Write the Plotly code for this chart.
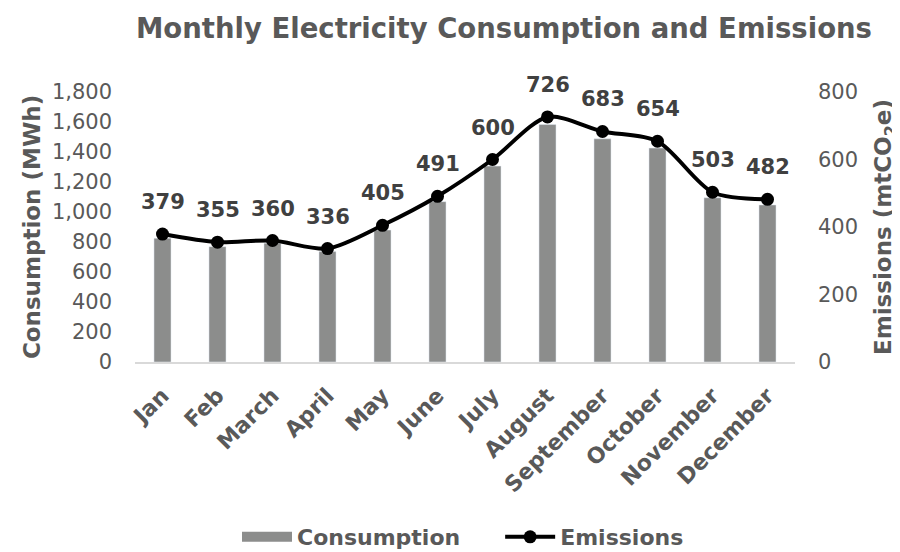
import plotly.graph_objects as go

months = ["Jan", "Feb", "March", "April", "May", "June", "July", "August",
          "September", "October", "November", "December"]
consumption = [825, 769, 792, 736, 880, 1069, 1306, 1583, 1488, 1426, 1095, 1047]
emissions = [379, 355, 360, 336, 405, 491, 600, 726, 683, 654, 503, 482]
left_ticks = [0, 200, 400, 600, 800, 1000, 1200, 1400, 1600, 1800]
right_ticks = [0, 200, 400, 600, 800]

FONT = "DejaVu Sans"
GREY = "#595959"
BAR = "#8c8d8c"
W, H = 892, 544  # page body has an 8px default margin

fig = go.Figure()
fig.add_trace(go.Bar(
    x=months, y=consumption, name="Consumption", showlegend=False,
    marker=dict(color=BAR), yaxis="y",
))
# legend entry for the bars (wide grey swatch, as in the reference)
fig.add_trace(go.Scatter(
    x=[None], y=[None], name="<b>Consumption</b>" + "\u00a0" * 5, mode="lines",
    line=dict(color=BAR, width=16), yaxis="y",
))
fig.add_trace(go.Scatter(
    x=months, y=emissions, name="<b>Emissions</b>", yaxis="y2",
    mode="lines+markers",
    line=dict(color="black", width=4, shape="spline", smoothing=0.8),
    marker=dict(color="black", size=13),
))

for m, e in zip(months, emissions):
    fig.add_annotation(x=m, y=e, xref="x", yref="y2", text=f"<b>{e}</b>",
                       showarrow=False, yshift=32,
                       font=dict(family=FONT, size=21, color="#404040"))

fig.update_layout(
    width=W, height=H,
    margin=dict(l=127, r=105, t=84, b=190, autoexpand=False),
    paper_bgcolor="white", plot_bgcolor="white",
    font=dict(family=FONT, color=GREY),
    title=dict(text="<b>Monthly Electricity Consumption and Emissions</b>",
               x=496 / W, xanchor="center", xref="container",
               y=1 - 20 / H, yanchor="middle", yref="container",
               font=dict(family=FONT, size=27.5, color=GREY)),
    bargap=0.69,
    showlegend=True,
    legend=dict(orientation="h", x=455 / W, xanchor="center", xref="container",
                y=1 - 529 / H, yanchor="middle", yref="container",
                font=dict(family=FONT, size=22, color=GREY), itemwidth=50,
                traceorder="normal"),
    xaxis=dict(showline=True, linecolor="#d9d9d9", linewidth=2, tickangle=-45,
               range=[-0.5, len(months) - 0.5],
               tickfont=dict(family=FONT, size=22, color=GREY), ticks="",
               showgrid=False, automargin=False, ticklabelstandoff=10,
               tickprefix="<b>", ticksuffix="</b>"),
    yaxis=dict(range=[0, 1800], tickvals=left_ticks, tickformat=",", showgrid=False,
               zeroline=False, tickfont=dict(family=FONT, size=21, color=GREY),
               automargin=False, ticklabelstandoff=22,
               title=dict(text="<b>Consumption (MWh)</b>", standoff=4,
                          font=dict(family=FONT, size=23, color=GREY))),
    yaxis2=dict(range=[0, 800], tickvals=right_ticks, overlaying="y", side="right",
                showgrid=False, zeroline=False, automargin=False, ticklabelstandoff=22,
                tickfont=dict(family=FONT, size=21, color=GREY),
                title=dict(text="<b>Emissions (mtCO<sub>2</sub>e)</b>", standoff=25,
                           font=dict(family=FONT, size=23, color=GREY))),
)

fig.write_html("out.html")
